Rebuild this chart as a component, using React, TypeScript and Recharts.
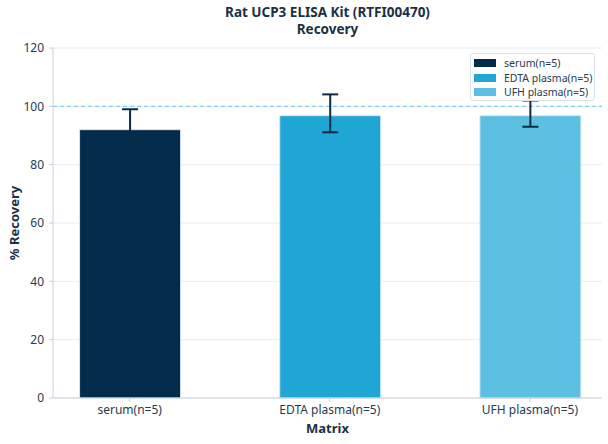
import React from "react";
import {
  BarChart,
  Bar,
  XAxis,
  YAxis,
  CartesianGrid,
  Cell,
  ErrorBar,
  ReferenceLine,
} from "recharts";

const categories = ["serum(n=5)", "EDTA plasma(n=5)", "UFH plasma(n=5)"];
const recovery = [92, 96.8, 96.8];
const errLow = [7, 5.7, 3.8];
const errHigh = [7, 7.3, 5.2];
const yTicks = [0, 20, 40, 60, 80, 100, 120];

const COLORS = ["#032b4b", "#20a6d4", "#5bc0e1"];
const INK = "#253b52";
const FONT = "'Noto Sans', sans-serif";

const data = categories.map((name, i) => ({
  x: i,
  name,
  value: recovery[i],
  err: [errLow[i], errHigh[i]],
}));

export default function App() {
  return (
    <div
      style={{
        position: "absolute",
        left: 0,
        top: 0,
        width: 608,
        height: 444,
        background: "#fff",
        fontFamily: FONT,
      }}
    >
      <div
        style={{
          position: "absolute",
          left: 53,
          width: 549,
          top: 4,
          textAlign: "center",
          fontWeight: 700,
          fontSize: 13.5,
          lineHeight: "16.5px",
          color: "#1b2f45",
        }}
      >
        <div>Rat UCP3 ELISA Kit (RTFI00470)</div>
        <div>Recovery</div>
      </div>

      <BarChart
        width={608}
        height={444}
        data={data}
        margin={{ top: 48, right: 6, bottom: 0, left: 0 }}
      >
        <CartesianGrid vertical={false} stroke="#e6edf3" />
        <XAxis
          dataKey="x"
          type="number"
          domain={[-0.383, 2.36]}
          ticks={[0, 1, 2]}
          interval={0}
          allowDataOverflow
          tickFormatter={(i) => categories[i]}
          height={46}
          tickSize={4}
          tickMargin={3}
          stroke="#c5d0da"
          tick={{ fill: INK, fontSize: 12, fontFamily: FONT }}
          label={{
            value: "Matrix",
            position: "insideBottom",
            offset: 11,
            fill: "#1b2f45",
            fontSize: 13,
            fontWeight: 700,
            fontFamily: FONT,
          }}
        />
        <YAxis
          domain={[0, 120]}
          ticks={yTicks}
          width={53}
          tickSize={4}
          tickMargin={5}
          stroke="#c5d0da"
          tick={{ fill: INK, fontSize: 12, fontFamily: FONT }}
          label={{
            value: "% Recovery",
            angle: -90,
            position: "insideLeft",
            offset: 14,
            fill: "#1b2f45",
            fontSize: 13,
            fontWeight: 700,
            fontFamily: FONT,
            style: { textAnchor: "middle" },
          }}
        />
        <ReferenceLine y={100} stroke="#6ccbea" strokeDasharray="4 3" strokeWidth={1} />
        <Bar
          dataKey="value"
          barSize={101}
          stroke="#d6e6f0"
          strokeWidth={1}
          isAnimationActive={false}
        >
          {data.map((_, i) => (
            <Cell key={`cell-${i}`} fill={COLORS[i]} />
          ))}
          <ErrorBar
            dataKey="err"
            direction="y"
            width={8}
            stroke="#0d2a45"
            strokeWidth={2}
            isAnimationActive={false}
          />
        </Bar>
      </BarChart>

      <div
        style={{
          position: "absolute",
          left: 470,
          top: 53,
          width: 125,
          height: 48,
          border: "1px solid #d8e2ea",
          borderRadius: 3,
          background: "#fff",
          paddingTop: 2,
          boxSizing: "border-box",
        }}
      >
        {categories.map((name, i) => (
          <div
            key={name}
            style={{
              display: "flex",
              alignItems: "center",
              height: 14.5,
              fontSize: 10.5,
              whiteSpace: "nowrap",
              color: INK,
            }}
          >
            <span
              style={{
                display: "inline-block",
                flex: "none",
                width: 22,
                height: 8,
                marginLeft: 3,
                marginRight: 8,
                background: COLORS[i],
              }}
            />
            {name}
          </div>
        ))}
      </div>
    </div>
  );
}
